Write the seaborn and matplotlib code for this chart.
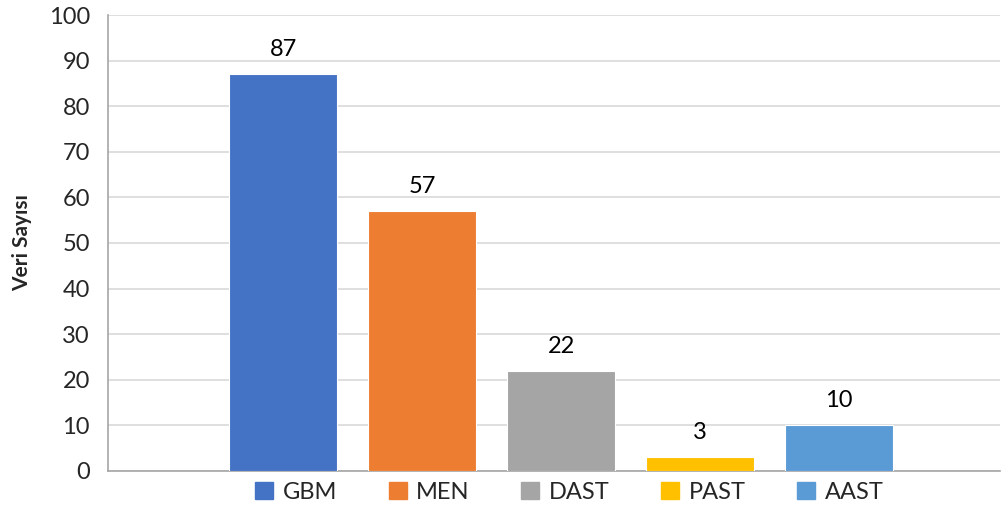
import numpy as np
import pandas as pd
import matplotlib
matplotlib.use("Agg")
import matplotlib.pyplot as plt
import seaborn as sns

series = ["GBM", "MEN", "DAST", "PAST", "AAST"]
counts = [87, 57, 22, 3, 10]
colors = ["#4472C4", "#ED7D31", "#A5A5A5", "#FFC000", "#5B9BD5"]
y_label = "Veri Sayısı"

df = pd.DataFrame({"grup": series, "sayi": counts})

sns.set_style("white")
plt.rcParams["font.family"] = ["Lato", "DejaVu Sans"]

fig = plt.figure(figsize=(10.06, 5.09), dpi=100)
ax = fig.add_axes([0.1074, 0.0747, 0.8866, 0.8958])

sns.barplot(data=df, x="grup", y="sayi", hue="grup", palette=colors,
            saturation=1, width=0.777, dodge=False, legend=False, ax=ax,
            edgecolor="white", linewidth=0.8, zorder=3)

for c in ax.containers:
    ax.bar_label(c, fontsize=17, padding=10, color="#000000")

ax.set_xlim(-1.259, 5.158)
ax.set_ylim(0, 100)
ax.set_yticks(np.arange(0, 101, 10))
ax.tick_params(axis="y", labelsize=17, length=0, pad=13)
ax.set_xticks([])
ax.set_xlabel("")
ax.set_ylabel(y_label, fontsize=15, fontweight="bold", labelpad=12)
ax.yaxis.grid(True, color="#d9d9d9", linewidth=1.2, zorder=0)
for s in ["top", "right"]:
    ax.spines[s].set_visible(False)
for s in ["left", "bottom"]:
    ax.spines[s].set_color("#a6a6a6")
    ax.spines[s].set_linewidth(1.2)

handles = [plt.Rectangle((0, 0), 1, 1, color=col) for col in colors]
fig.legend(handles, series, loc="center", bbox_to_anchor=(0.566, 0.033),
           ncol=5, frameon=False, fontsize=17, handlelength=0.75,
           handleheight=0.75, handletextpad=0.4, columnspacing=2.2)

fig.savefig("out.png", dpi=100)
